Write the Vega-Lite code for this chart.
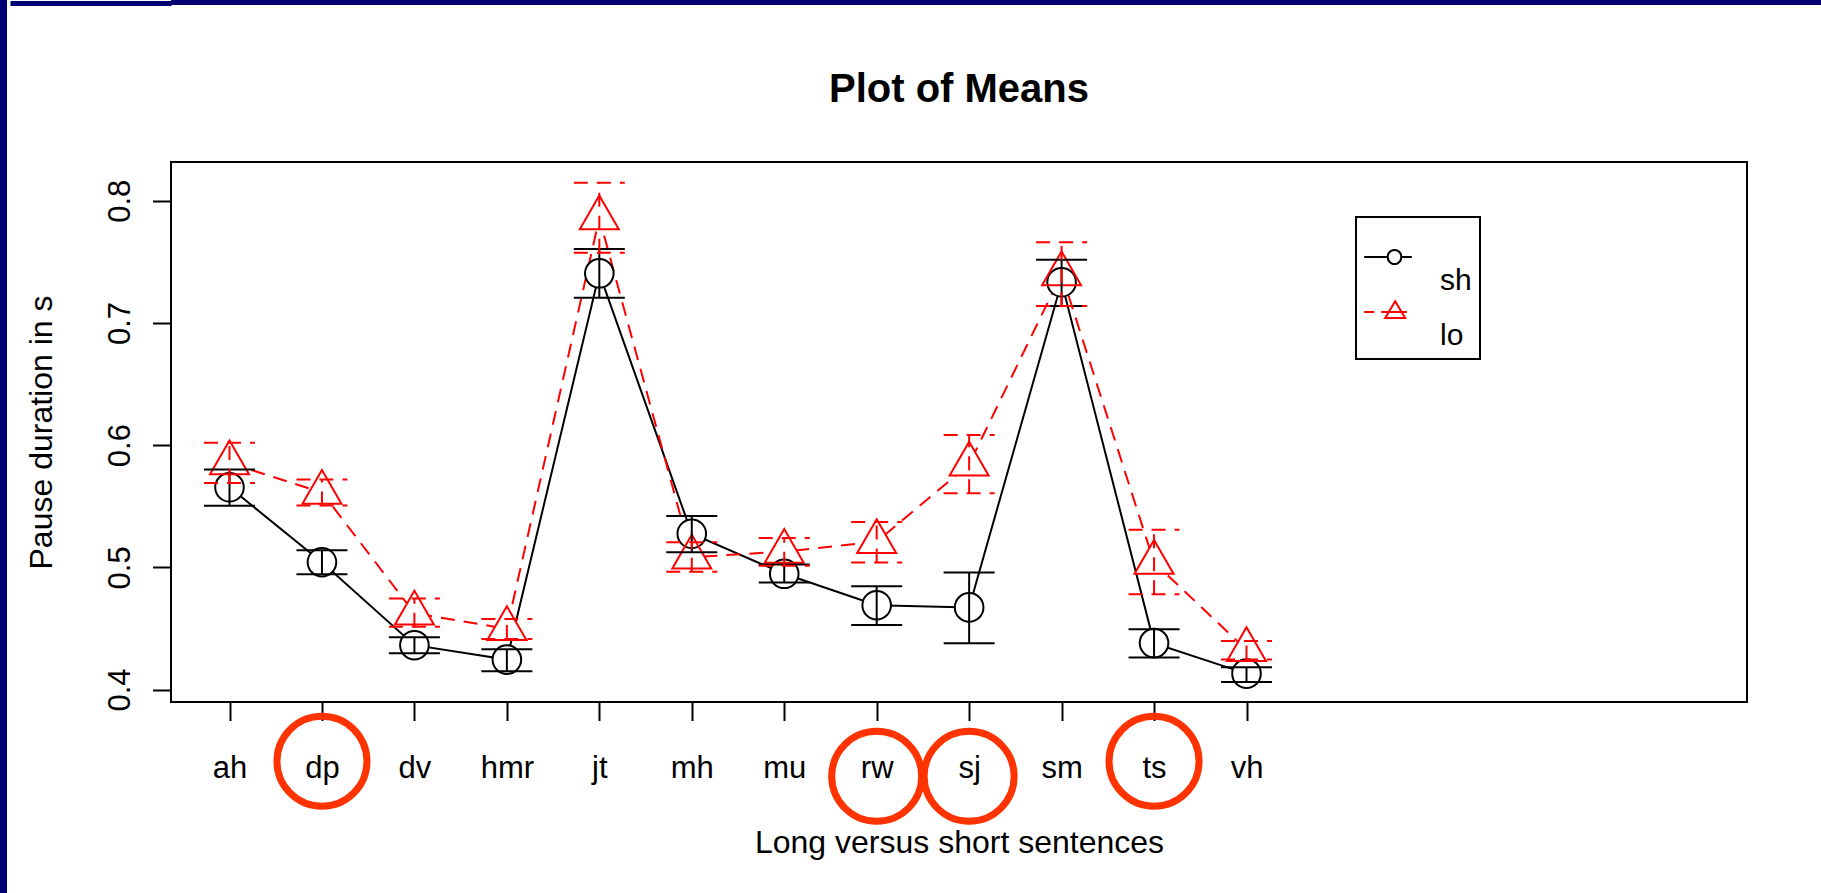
{
  "$schema": "https://vega.github.io/schema/vega-lite/v6.json",
  "padding": 0,
  "background": "white",
  "bounds": "full",
  "spacing": 0,
  "config": {"view": {"stroke": "black", "strokeWidth": 2}, "font": "Liberation Sans"},
  "hconcat": [
    {
      "width": 7, "height": 893,
      "view": {"fill": "#000072", "stroke": null},
      "data": {"values": []},
      "mark": "rect"
    },
    {
      "spacing": 0,
      "bounds": "full",
      "resolve": {"scale": {"x": "independent", "y": "independent"}, "axis": {"x": "independent", "y": "independent"}},
      "vconcat": [
        {
          "width": 1653, "height": 5,
          "view": {"fill": "#000072", "stroke": null},
          "data": {"values": []},
          "mark": "point",
          "encoding": {
            "y": {"datum": 0.5, "type": "quantitative", "scale": {"domain": [0, 1]},
              "axis": {"values": [0.5], "tickSize": 161, "tickWidth": 5, "tickColor": "#000072", "tickCap": "butt", "labels": false, "domain": false, "grid": false, "title": null}}
          }
        },
        {
          "width": 1576,
          "height": 540,
          "title": {"text": ["", "Plot of Means"], "lineHeight": 63, "fontSize": 40, "fontWeight": "bold", "font": "Liberation Sans", "color": "black", "anchor": "middle", "frame": "group", "baseline": "alphabetic", "offset": 20},
          "data": {"values": [
            {"speaker": "ah", "group": "sh", "mean": 0.5655, "lo": 0.5503, "hi": 0.5801},
            {"speaker": "dp", "group": "sh", "mean": 0.5042, "lo": 0.4944, "hi": 0.514},
            {"speaker": "dv", "group": "sh", "mean": 0.4363, "lo": 0.4297, "hi": 0.4428},
            {"speaker": "hmr", "group": "sh", "mean": 0.4245, "lo": 0.415, "hi": 0.433},
            {"speaker": "jt", "group": "sh", "mean": 0.7406, "lo": 0.7206, "hi": 0.7605},
            {"speaker": "mh", "group": "sh", "mean": 0.5275, "lo": 0.5124, "hi": 0.5421},
            {"speaker": "mu", "group": "sh", "mean": 0.4947, "lo": 0.4876, "hi": 0.5023},
            {"speaker": "rw", "group": "sh", "mean": 0.469, "lo": 0.4529, "hi": 0.4846},
            {"speaker": "sj", "group": "sh", "mean": 0.4672, "lo": 0.4379, "hi": 0.4958},
            {"speaker": "sm", "group": "sh", "mean": 0.7333, "lo": 0.7138, "hi": 0.7517},
            {"speaker": "ts", "group": "sh", "mean": 0.438, "lo": 0.4262, "hi": 0.4494},
            {"speaker": "vh", "group": "sh", "mean": 0.413, "lo": 0.4062, "hi": 0.4183},
            {"speaker": "ah", "group": "lo", "mean": 0.5853, "lo": 0.5691, "hi": 0.6019},
            {"speaker": "dp", "group": "lo", "mean": 0.5613, "lo": 0.5506, "hi": 0.5719},
            {"speaker": "dv", "group": "lo", "mean": 0.4625, "lo": 0.4513, "hi": 0.4745},
            {"speaker": "hmr", "group": "lo", "mean": 0.4497, "lo": 0.4414, "hi": 0.4578},
            {"speaker": "jt", "group": "lo", "mean": 0.7858, "lo": 0.7574, "hi": 0.8147},
            {"speaker": "mh", "group": "lo", "mean": 0.5083, "lo": 0.4963, "hi": 0.5206},
            {"speaker": "mu", "group": "lo", "mean": 0.5129, "lo": 0.5012, "hi": 0.5241},
            {"speaker": "rw", "group": "lo", "mean": 0.521, "lo": 0.504, "hi": 0.5372},
            {"speaker": "sj", "group": "lo", "mean": 0.5843, "lo": 0.5607, "hi": 0.6082},
            {"speaker": "sm", "group": "lo", "mean": 0.7401, "lo": 0.7138, "hi": 0.7661},
            {"speaker": "ts", "group": "lo", "mean": 0.504, "lo": 0.478, "hi": 0.5307},
            {"speaker": "vh", "group": "lo", "mean": 0.4325, "lo": 0.4246, "hi": 0.4398}
          ]},
          "encoding": {
            "x": {"field": "speaker", "type": "nominal", "sort": null,
              "scale": {"type": "point", "padding": 0, "domain": ["ah","dp","dv","hmr","jt","mh","mu","rw","sj","sm","ts","vh"], "range": [58.5, 1075.5]},
              "axis": {"domain": false, "grid": false, "ticks": true, "tickSize": 18.5, "tickWidth": 2, "tickColor": "black",
                "labelAngle": 0, "labelAlign": "center", "labelBaseline": "alphabetic", "labelPadding": 57, "labelFontSize": 31, "labelFont": "Liberation Sans", "labelColor": "black", "labelOverlap": false, "labelFlush": false,
                "title": "Long versus short sentences", "titleFontSize": 32, "titleFont": "Liberation Sans", "titleFontWeight": "normal", "titleColor": "black", "titleBaseline": "alphabetic", "titleAlign": "center", "titleX": 788, "titleY": 150}}
          },
          "layer": [
            {
              "transform": [{"filter": "datum.group === 'sh'"}],
              "mark": {"type": "line", "strokeWidth": 2},
              "encoding": {
                "y": {"field": "mean", "type": "quantitative",
                  "scale": {"domain": [0.3898, 0.8317], "nice": false, "zero": false},
                  "axis": {"values": [0.4, 0.5, 0.6, 0.7, 0.8], "format": ".1f", "grid": false, "domain": false, "tickSize": 18.5, "tickWidth": 2, "tickColor": "black",
                    "labelAngle": -90, "labelAlign": "center", "labelBaseline": "alphabetic", "labelPadding": 23, "labelFontSize": 31, "labelFont": "Liberation Sans", "labelColor": "black", "labelOverlap": false, "labelFlush": false,
                    "title": "Pause duration in s", "titleFontSize": 32, "titleFont": "Liberation Sans", "titleFontWeight": "normal", "titleColor": "black", "titleAngle": -90, "titleBaseline": "alphabetic", "titleAlign": "center", "titleX": -120, "titleY": 270}},
                "color": {"field": "group", "type": "nominal",
                  "scale": {"domain": ["sh", "lo"], "range": ["black", "red"]},
                  "legend": {"orient": "none", "legendX": 1356, "legendY": 217,
                    "title": " ", "titleFontSize": 8, "titlePadding": 8,
                    "strokeColor": "black", "fillColor": "white", "padding": 8,
                    "symbolType": {"expr": "datum.value === 'sh' ? 'M-1.587,0L-0.013,0M0.88,0L1.587,0M-0.013,0A0.447,0.447 0 1,0 0.88,0A0.447,0.447 0 1,0 -0.013,0' : 'M-1.587,0L-0.92,0M-0.453,0L1.26,0M0.48,-0.713L1.147,0.4L-0.187,0.4Z'"},
                    "symbolSize": 900, "symbolStrokeWidth": 2, "symbolOffset": 8, "symbolFillColor": "transparent",
                    "labelOffset": 36, "labelFontSize": 30, "labelFont": "Liberation Sans", "labelColor": "black", "labelBaseline": "alphabetic", "rowPadding": 0,
                    "encode": {
                      "labels": {"update": {"dy": {"value": 33}}},
                      "legend": {"update": {"strokeWidth": {"value": 2}}}
                    }}}
              }
            },
            {
              "transform": [{"filter": "datum.group === 'lo'"}],
              "mark": {"type": "line", "strokeWidth": 2, "color": "red", "strokeDash": [14, 9]},
              "encoding": {"y": {"field": "mean", "type": "quantitative"}}
            },
            {
              "transform": [{"filter": "datum.group === 'sh'"}],
              "mark": {"type": "point", "shape": "circle", "filled": true, "fill": "white", "opacity": 1, "strokeWidth": 0, "size": 818},
              "encoding": {"y": {"field": "mean", "type": "quantitative"}}
            },
            {
              "transform": [{"filter": "datum.group === 'lo'"}],
              "mark": {"type": "point", "shape": "M0,-1L0.866,0.5L-0.866,0.5Z", "filled": true, "fill": "white", "opacity": 1, "strokeWidth": 0, "size": 2025},
              "encoding": {"y": {"field": "mean", "type": "quantitative"}}
            },
            {
              "transform": [{"filter": "datum.group === 'sh'"}],
              "mark": {"type": "point", "shape": "circle", "filled": false, "stroke": "black", "opacity": 1, "strokeWidth": 2, "size": 818},
              "encoding": {"y": {"field": "mean", "type": "quantitative"}}
            },
            {
              "transform": [{"filter": "datum.group === 'lo'"}],
              "mark": {"type": "point", "shape": "M0,-1L0.866,0.5L-0.866,0.5Z", "filled": false, "stroke": "red", "opacity": 1, "strokeWidth": 2, "size": 2025},
              "encoding": {"y": {"field": "mean", "type": "quantitative"}}
            },
            {
              "transform": [{"filter": "datum.group === 'sh'"}],
              "mark": {"type": "rule", "strokeWidth": 2, "color": "black"},
              "encoding": {"y": {"field": "lo", "type": "quantitative"}, "y2": {"field": "hi"}}
            },
            {
              "transform": [{"filter": "datum.group === 'sh'"}, {"fold": ["lo", "hi"], "as": ["bound", "val"]}],
              "mark": {"type": "rule", "strokeWidth": 2, "color": "black", "xOffset": -25.5, "x2Offset": 25.5},
              "encoding": {"x2": {"field": "speaker"}, "y": {"field": "val", "type": "quantitative"}}
            },
            {
              "transform": [{"filter": "datum.group === 'lo'"}],
              "mark": {"type": "rule", "strokeWidth": 2, "color": "red", "strokeDash": [14, 9]},
              "encoding": {"y": {"field": "lo", "type": "quantitative"}, "y2": {"field": "hi"}}
            },
            {
              "transform": [{"filter": "datum.group === 'lo'"}, {"fold": ["lo", "hi"], "as": ["bound", "val"]}],
              "mark": {"type": "rule", "strokeWidth": 2, "color": "red", "strokeDash": [14, 9], "xOffset": -25.5, "x2Offset": 25.5},
              "encoding": {"x2": {"field": "speaker"}, "y": {"field": "val", "type": "quantitative"}}
            },
            {
              "transform": [{"filter": "datum.group === 'sh' && (datum.speaker === 'dp' || datum.speaker === 'ts')"}],
              "mark": {"type": "point", "shape": "circle", "filled": false, "stroke": "#ff3300", "strokeWidth": 7, "size": 8100, "opacity": 1, "clip": false},
              "encoding": {"y": {"datum": 0.3413, "type": "quantitative"}}
            },
            {
              "transform": [{"filter": "datum.group === 'sh' && (datum.speaker === 'rw' || datum.speaker === 'sj')"}],
              "mark": {"type": "point", "shape": "circle", "filled": false, "stroke": "#ff3300", "strokeWidth": 7, "size": 8100, "opacity": 1, "clip": false},
              "encoding": {"y": {"datum": 0.329, "type": "quantitative"}}
            }
          ]
        }
      ]
    }
  ]
}
